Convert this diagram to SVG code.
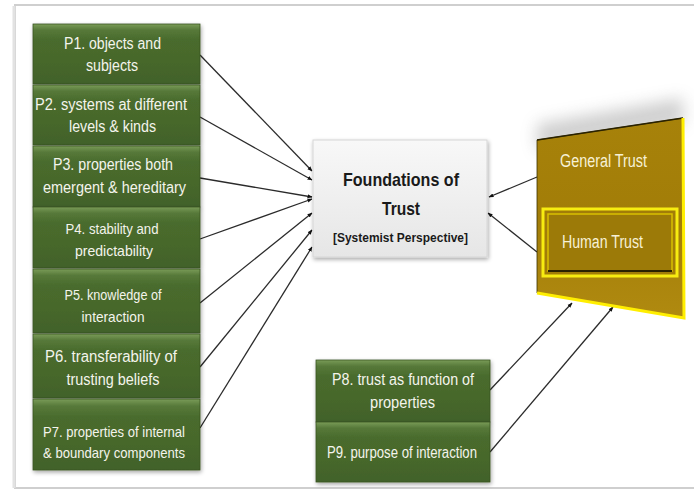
<svg xmlns="http://www.w3.org/2000/svg" width="694" height="497" viewBox="0 0 694 497">
<defs>
<style>
.gbox{fill:url(#gGreen);stroke:#3a5520;stroke-width:0.8}
.gt{font-family:"Liberation Sans",Arial,sans-serif;font-size:16px;fill:#f4f4ec;text-anchor:middle}
.gs{font-size:14.5px}
.ct{font-family:"Liberation Sans",Arial,sans-serif;font-weight:bold;fill:#1a1a1a;text-anchor:middle}
.yt{font-family:"Liberation Sans",Arial,sans-serif;font-size:18px;fill:#f7f1d6;text-anchor:middle}
.con{stroke:#2b2b2b;stroke-width:1.3;fill:none;marker-end:url(#ah)}
</style>
<linearGradient id="gGreen" x1="0" y1="0" x2="0" y2="1">
<stop offset="0" stop-color="#7a9c58"/>
<stop offset="0.1" stop-color="#57793a"/>
<stop offset="0.25" stop-color="#4a6c2d"/>
<stop offset="1" stop-color="#42622a"/>
</linearGradient>
<linearGradient id="gGray" x1="0" y1="0" x2="0" y2="1">
<stop offset="0" stop-color="#f8f8f8"/>
<stop offset="1" stop-color="#e6e6e6"/>
</linearGradient>
<linearGradient id="gGold" x1="0" y1="0" x2="0" y2="1">
<stop offset="0" stop-color="#a7820a"/>
<stop offset="0.5" stop-color="#a27d08"/>
<stop offset="1" stop-color="#b08a10"/>
</linearGradient>
<filter id="sh" x="-10%" y="-10%" width="130%" height="130%">
<feGaussianBlur in="SourceAlpha" stdDeviation="2"/>
<feOffset dx="1" dy="2"/>
<feComponentTransfer><feFuncA type="linear" slope="0.35"/></feComponentTransfer>
<feMerge><feMergeNode/><feMergeNode in="SourceGraphic"/></feMerge>
</filter>
<filter id="blur" x="-20%" y="-80%" width="140%" height="260%">
<feGaussianBlur stdDeviation="8"/>
</filter>
<marker id="ah" viewBox="0 0 10 10" refX="9" refY="5" markerWidth="5" markerHeight="5" orient="auto" markerUnits="userSpaceOnUse">
<path d="M0,1 L10,5 L0,9 z" fill="#111"/>
</marker>
</defs>
<rect x="0" y="0" width="694" height="497" fill="#ffffff"/>
<!-- frame -->
<rect x="15" y="5" width="700" height="483" fill="#ffffff" stroke="#cfcfcf" stroke-width="2"/>
<line x1="14" y1="6" x2="14" y2="488" stroke="#e2e2e2" stroke-width="3"/>

<g id="connectors">
<line class="con" x1="200" y1="55" x2="312" y2="171"/>
<line class="con" x1="200" y1="117" x2="312" y2="180"/>
<line class="con" x1="200" y1="178" x2="312" y2="197"/>
<line class="con" x1="200" y1="239" x2="312" y2="199"/>
<line class="con" x1="200" y1="303" x2="312" y2="213"/>
<line class="con" x1="200" y1="367" x2="312" y2="230"/>
<line class="con" x1="200" y1="428" x2="312" y2="247"/>
<line class="con" x1="537" y1="177" x2="489" y2="197"/>
<line class="con" x1="537" y1="252" x2="488" y2="213"/>
<line class="con" x1="490" y1="390" x2="572" y2="303"/>
<line class="con" x1="490" y1="452" x2="613" y2="307"/>
</g>

<g id="p1"><rect class="gbox" x="33" y="24" width="167" height="60" filter="url(#sh)"/>
<text class="gt" x="112.5" y="49" textLength="97" lengthAdjust="spacingAndGlyphs">P1. objects and</text>
<text class="gt" x="112" y="71" textLength="52" lengthAdjust="spacingAndGlyphs">subjects</text></g>
<g id="p2"><rect class="gbox" x="33" y="85" width="167" height="60" filter="url(#sh)"/>
<text class="gt" x="111" y="110" textLength="152" lengthAdjust="spacingAndGlyphs">P2. systems at different</text>
<text class="gt" x="112.5" y="132" textLength="87" lengthAdjust="spacingAndGlyphs">levels &amp; kinds</text></g>
<g id="p3"><rect class="gbox" x="33" y="146" width="167" height="61" filter="url(#sh)"/>
<text class="gt" x="113" y="170" textLength="120" lengthAdjust="spacingAndGlyphs">P3. properties both</text>
<text class="gt" x="114.5" y="193" textLength="143" lengthAdjust="spacingAndGlyphs">emergent &amp; hereditary</text></g>
<g id="p4"><rect class="gbox" x="33" y="207" width="167" height="61" filter="url(#sh)"/>
<text class="gt gs" x="112" y="234" textLength="93" lengthAdjust="spacingAndGlyphs">P4. stability and</text>
<text class="gt gs" x="114" y="256" textLength="78" lengthAdjust="spacingAndGlyphs">predictability</text></g>
<g id="p5"><rect class="gbox" x="33" y="269" width="167" height="64" filter="url(#sh)"/>
<text class="gt gs" x="113" y="300" textLength="97" lengthAdjust="spacingAndGlyphs">P5. knowledge of</text>
<text class="gt gs" x="113" y="322" textLength="63" lengthAdjust="spacingAndGlyphs">interaction</text></g>
<g id="p6"><rect class="gbox" x="33" y="334" width="167" height="64" filter="url(#sh)"/>
<text class="gt" x="111" y="362" textLength="132" lengthAdjust="spacingAndGlyphs">P6. transferability of</text>
<text class="gt" x="113" y="385" textLength="93" lengthAdjust="spacingAndGlyphs">trusting beliefs</text></g>
<g id="p7"><rect class="gbox" x="33" y="399" width="167" height="71" filter="url(#sh)"/>
<text class="gt gs" x="114" y="437" textLength="142" lengthAdjust="spacingAndGlyphs">P7. properties of internal</text>
<text class="gt gs" x="114" y="458" textLength="142" lengthAdjust="spacingAndGlyphs">&amp; boundary components</text></g>

<g id="foundations">
<rect x="313" y="140" width="174" height="117" fill="url(#gGray)" stroke="#d6d6d6" stroke-width="1" filter="url(#sh)"/>
<text class="ct" x="401" y="186" font-size="19" textLength="116" lengthAdjust="spacingAndGlyphs">Foundations of</text>
<text class="ct" x="401" y="215" font-size="19" textLength="38" lengthAdjust="spacingAndGlyphs">Trust</text>
<text class="ct" x="400.5" y="242" font-size="13" textLength="135" lengthAdjust="spacingAndGlyphs">[Systemist Perspective]</text>
</g>

<g id="general-trust">
<polygon points="537,124 683,98 683,124 537,150" fill="#777" opacity="0.35" filter="url(#blur)"/>
<polygon points="537,140 683,118 684,318 537,293" fill="url(#gGold)" stroke="#3a3000" stroke-width="0.8"/>
<line x1="537" y1="140" x2="683" y2="118" stroke="#2a2200" stroke-width="1.5"/>
<polyline points="683,118 684,318 537,293" fill="none" stroke="#ffee00" stroke-width="3"/>
<text class="yt" x="603.5" y="167" textLength="87" lengthAdjust="spacingAndGlyphs">General Trust</text>
</g>
<g id="human-trust">
<rect x="543" y="209" width="134" height="67" fill="#a27d08" stroke="#f7ec10" stroke-width="3"/>
<rect x="548" y="214" width="124" height="57" fill="#9c7a08" stroke="#d9c000" stroke-width="1.5"/>
<line x1="548" y1="271" x2="672" y2="271" stroke="#2a2200" stroke-width="2"/>
<text class="yt" x="602.5" y="248" textLength="81" lengthAdjust="spacingAndGlyphs">Human Trust</text>
</g>

<g id="p8"><rect class="gbox" x="316" y="360" width="174" height="62" filter="url(#sh)"/>
<text class="gt" x="403" y="385" textLength="142" lengthAdjust="spacingAndGlyphs">P8. trust as function of</text>
<text class="gt" x="402.5" y="408" textLength="65" lengthAdjust="spacingAndGlyphs">properties</text></g>
<g id="p9"><rect class="gbox" x="316" y="422" width="174" height="60" filter="url(#sh)"/>
<text class="gt" x="402" y="458" textLength="150" lengthAdjust="spacingAndGlyphs">P9. purpose of interaction</text></g>
</svg>
